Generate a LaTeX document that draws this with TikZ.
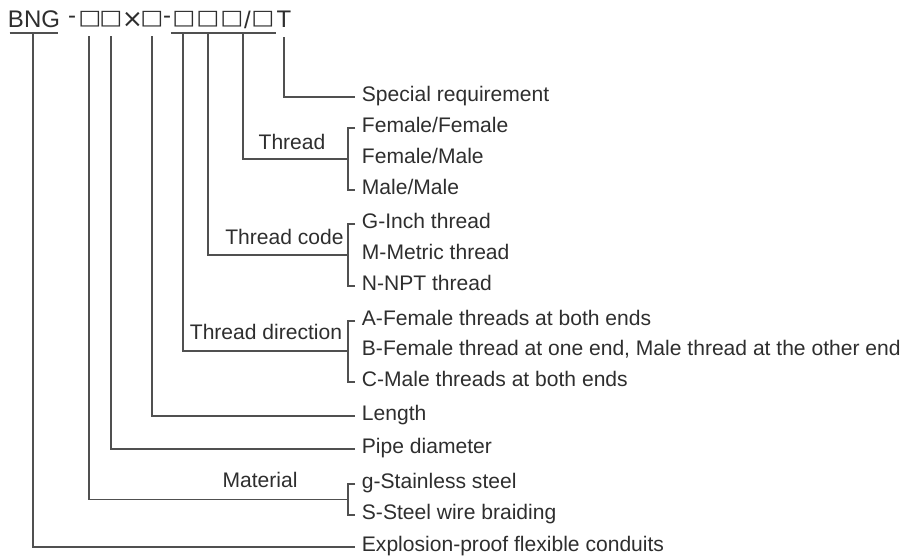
\documentclass[tikz,border=0pt]{standalone}
\usepackage{fontspec}
\setmainfont{Liberation Sans}
\newfontfamily\symfont{DejaVu Sans}
\usepackage{graphicx}
\usepackage{tikz}
\definecolor{inkgray}{HTML}{2E2E2E}
\definecolor{linegray}{HTML}{505050}
\newcommand\phbox{\scalebox{1}[0.84]{\symfont\fontsize{18.3}{22}\selectfont □}}

\begin{document}
\begin{tikzpicture}[x=0.75pt,y=-0.75pt]
\tikzstyle{every node}=[inner sep=0pt,text=inkgray]
\tikzstyle{hd}=[font=\fontsize{18}{21}\selectfont]
\tikzstyle{ph}=[font=\symfont\fontsize{16}{20}\selectfont]
\tikzstyle{item}=[anchor=west,inner xsep=5pt,font=\fontsize{15.8}{19}\selectfont,text height=0.716em,text depth=0pt]
\tikzstyle{grp}=[font=\fontsize{15.8}{19}\selectfont,text height=0.716em,text depth=0pt]
\tikzstyle{ln}=[draw=linegray,line width=1.1pt]

\useasboundingbox (0,0) rectangle (902,558);

\node[hd] (bng) at (34,19.5) {BNG};
\node[hd] (d1) at (72,20) {-};
\node[ph] (p1) at (90,19.5) {\phbox};
\node[ph] (p2) at (111,19.5) {\phbox};
\node[ph,font=\symfont\fontsize{19}{22}\selectfont] (tm) at (132.5,19.5) {×};
\node[ph] (p3) at (152,19.5) {\phbox};
\node[hd] (d2) at (167,20) {-};
\node[ph] (p4) at (184,19.5) {\phbox};
\node[ph] (p5) at (208,19.5) {\phbox};
\node[ph] (p6) at (232,19.5) {\phbox};
\node[hd] (sl) at (247.5,19.5) {/};
\node[ph] (p7) at (263,19.5) {\phbox};
\node[hd] (tt) at (284,19.5) {T};

\coordinate (k0) at (33,33);
\coordinate (k1) at (89,36);
\coordinate (k2) at (111,36);
\coordinate (k3) at (152,36);
\coordinate (k4) at (183,33);
\coordinate (k5) at (208,33);
\coordinate (k6) at (243,33);
\coordinate (k7) at (284,37);

\node[item] (sr) at (355,97) {Special requirement};
\node[item] (ff) at (355,128) {Female/Female};
\node[item] (fm) at (355,159) {Female/Male};
\node[item] (mm) at (355,190) {Male/Male};
\node[item] (gi) at (355,224) {G-Inch thread};
\node[item] (mi) at (355,255) {M-Metric thread};
\node[item] (ni) at (355,286) {N-NPT thread};
\node[item] (af) at (355,321) {A-Female threads at both ends};
\node[item] (bf) at (355,351) {B-Female thread at one end, Male thread at the other end};
\node[item] (cm) at (355,382) {C-Male threads at both ends};
\node[item] (len) at (355,416) {Length};
\node[item] (pd) at (355,449) {Pipe diameter};
\node[item] (gs) at (355,484) {g-Stainless steel};
\node[item] (sw) at (355,515) {S-Steel wire braiding};
\node[item] (expl) at (355,547) {Explosion-proof flexible conduits};

\node[grp] (thrl) at (292,145) {Thread};
\node[grp] (tcl) at (284.5,240) {Thread code};
\node[grp] (tdl) at (266,335) {Thread direction};
\node[grp] (matl) at (260,483) {Material};

\coordinate (thrj) at (348,159);
\coordinate (tcj) at (348,255);
\coordinate (tdj) at (348,351);
\coordinate (matj) at (348,499.5);

\draw[ln] ([xshift=1.5pt]bng.west |- k0) -- ([xshift=-1.5pt]bng.east |- k0);
\draw[ln] ([xshift=-1pt]p4.west |- k4) -- ([xshift=1pt]p4.east |- k4);
\draw[ln] ([xshift=-1pt]p5.west |- k5) -- ([xshift=1pt]p5.east |- k5);
\draw[ln] ([xshift=-1pt]p6.west |- k6) -- ([xshift=1pt]p7.east |- k6);

\draw[ln] (k7) |- (sr.west);
\draw[ln] (ff.west) -- ++(-7,0) |- (mm.west);
\draw[ln] (k6) |- (thrj);
\draw[ln] (gi.west) -- ++(-7,0) |- (ni.west);
\draw[ln] (k5) |- (tcj);
\draw[ln] (af.west) -- ++(-7,0) |- (cm.west);
\draw[ln] (k4) |- (tdj);
\draw[ln] (k3) |- (len.west);
\draw[ln] (k2) |- (pd.west);
\draw[ln] (gs.west) -- ++(-7,0) |- (sw.west);
\draw[ln] (k1) |- (matj);
\draw[ln] (k0) |- (expl.west);
\end{tikzpicture}
\end{document}
